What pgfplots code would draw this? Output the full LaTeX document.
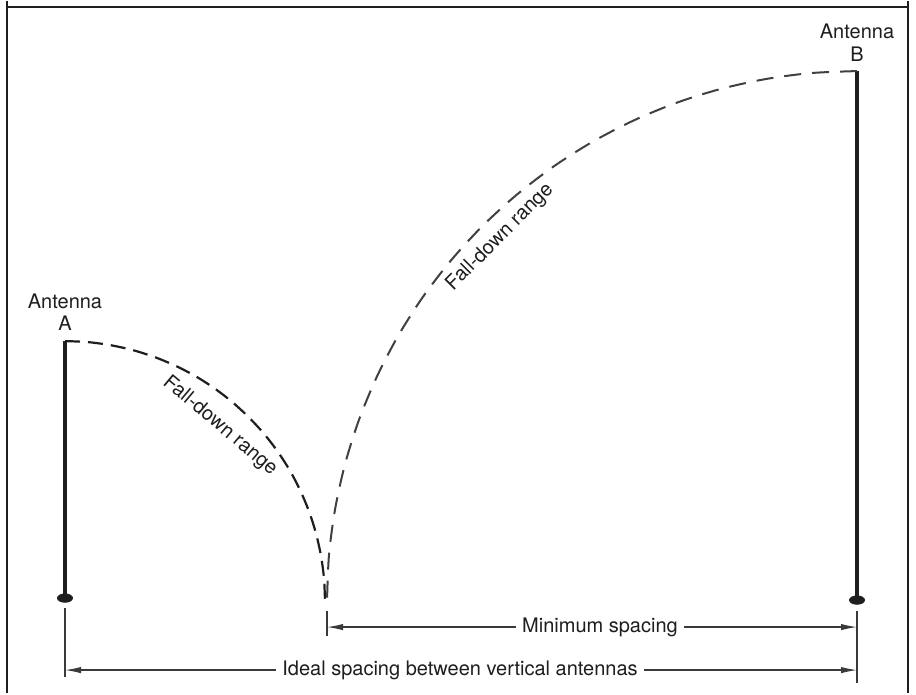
\documentclass[border=0pt]{standalone}
\usepackage{pgfplots}
\pgfplotsset{compat=1.18}
\usepackage{fontspec}
\setmainfont{TeX Gyre Heros}
\usetikzlibrary{arrows.meta}
\definecolor{ink}{HTML}{1E1E1E}
\definecolor{dim}{HTML}{3A3A3A}
\begin{document}
\begin{tikzpicture}
\begin{axis}[
  width=458pt, height=346pt, scale only axis,
  xmin=0, xmax=916, ymin=0, ymax=692,
  hide axis, clip=false,
]
% invisible extent
\addplot[draw=none, forget plot] coordinates {(0,0) (916,692)};
% frame (open at the bottom)
\addplot[ink, line width=1.1pt] coordinates {(7,692) (7,686) (908,686) (908,692)};
\addplot[ink, line width=1.1pt] coordinates {(7,686) (7,0)};
\addplot[ink, line width=1.1pt] coordinates {(908,686) (908,0)};
% antennas
\addplot[ink, line width=1.8pt] coordinates {(65,352) (65,95)};
\addplot[ink, line width=1.8pt] coordinates {(857,622) (857,94)};
\addplot[only marks, mark=*, mark size=2.1pt, mark options={xscale=1.8, fill=ink, draw=ink}] coordinates {(65,95) (857,93)};
% fall-down arcs
\addplot[ink, line width=1.1pt, dash pattern=on 7.5pt off 4pt, smooth] coordinates {
(65,352) (87.7,351.0) (110.1,348.0) (132.3,343.1) (153.9,336.3) (174.9,327.6)
(195,317.2) (214.1,305.0) (232.1,291.2) (248.8,275.8) (264.2,259.1) (278.0,241.1)
(290.2,222) (300.6,201.9) (309.3,180.9) (316.1,159.3) (321.0,137.1) (324.0,114.7) (325,92)};
\addplot[ink!85, line width=1.0pt, dash pattern=on 8.5pt off 5.5pt, smooth] coordinates {
(857,622) (810.8,620.0) (765.0,613.9) (719.8,603.9) (675.7,590.0) (633.0,572.3)
(592,551.0) (553.0,526.2) (516.3,498.0) (482.2,466.8) (451.0,432.7) (422.8,396.0)
(398.0,357) (376.7,316.0) (359.0,273.3) (345.1,229.2) (335.1,184.0) (329.0,138.2) (327,92)};
% extension lines
\addplot[dim, line width=0.7pt] coordinates {(65,85) (65,16)};
\addplot[dim, line width=0.7pt] coordinates {(327,82) (327,57)};
\addplot[dim, line width=0.7pt] coordinates {(857,82) (857,10)};
% dimension lines
\addplot[dim, line width=0.6pt, {Latex[length=8pt,width=3.2pt]}-{Latex[length=8pt,width=3.2pt]}] coordinates {(327,66) (857,66)};
\addplot[dim, line width=0.6pt, {Latex[length=8pt,width=3.2pt]}-{Latex[length=8pt,width=3.2pt]}] coordinates {(65,23) (857,23)};
% labels
\node[fill=white, inner sep=3pt, text=ink, font=\fontsize{10}{12}\selectfont] at (axis cs:600,66) {Minimum spacing};
\node[fill=white, inner sep=3pt, text=ink, font=\fontsize{10}{12}\selectfont] at (axis cs:460,23) {Ideal spacing between vertical antennas};
\node[text=ink, font=\fontsize{10}{12}\selectfont] at (axis cs:65,392) {Antenna};
\node[text=ink, font=\fontsize{10}{12}\selectfont] at (axis cs:65,370) {A};
\node[text=ink, font=\fontsize{10}{12}\selectfont] at (axis cs:857,662) {Antenna};
\node[text=ink, font=\fontsize{10}{12}\selectfont] at (axis cs:857,639) {B};
\node[text=ink, rotate=-40, font=\fontsize{10}{12}\selectfont] at (axis cs:220,267) {Fall-down range};
\node[text=ink, rotate=45, font=\fontsize{10}{12}\selectfont] at (axis cs:500,456) {Fall-down range};
\end{axis}
\end{tikzpicture}
\end{document}
